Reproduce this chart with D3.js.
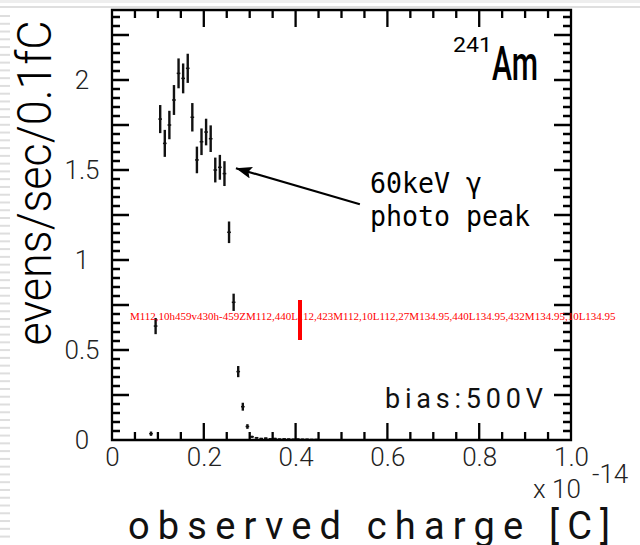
<!DOCTYPE html>
<html>
<head>
<meta charset="utf-8">
<script src="https://cdn.jsdelivr.net/npm/d3@7"></script>
<style>
  html, body { margin: 0; padding: 0; background: #fff; }
  svg { display: block; }
</style>
</head>
<body>
<svg id="chart"></svg>
<script>
// 241Am spectrum, bias 500V. charge in units of 1e-14 C
const chargeBins = [0.085, 0.095, 0.105, 0.115, 0.125, 0.135, 0.145, 0.155, 0.165, 0.175,
  0.185, 0.195, 0.205, 0.215, 0.225, 0.235, 0.245, 0.255, 0.265, 0.275,
  0.285, 0.295, 0.305, 0.315, 0.325, 0.335, 0.345, 0.355, 0.365, 0.375,
  0.385, 0.395, 0.405, 0.415, 0.425, 0.435, 0.445];
const rates = [0.035, 0.633, 1.783, 1.648, 1.75, 1.889, 2.037, 2.009, 2.065, 1.793,
  1.556, 1.657, 1.711, 1.674, 1.50, 1.515, 1.48, 1.154, 0.765, 0.38,
  0.185, 0.075, 0.018, 0.012, 0.008, 0.010, 0.006, 0.008, 0.005, 0.006,
  0.005, 0.004, 0.005, 0.004, 0.004, 0.003, 0.003];
const rateErrors = [0.012, 0.045, 0.078, 0.075, 0.079, 0.083, 0.083, 0.083, 0.081, 0.079,
  0.074, 0.074, 0.074, 0.074, 0.069, 0.069, 0.069, 0.06, 0.048, 0.031,
  0.022, 0.013, 0.006, 0.005, 0.004, 0.004, 0.004, 0.004, 0.003, 0.003,
  0.003, 0.003, 0.003, 0.003, 0.003, 0.003, 0.003];

const xLabelValues = [0, 0.2, 0.4, 0.6, 0.8, 1.0];
const xTickLabels = ["0", "0.2", "0.4", "0.6", "0.8", "1.0"];
const yLabelValues = [0, 0.5, 1, 1.5, 2];
const yTickLabels = ["0", "0.5", "1", "1.5", "2"];

const width = 640, height = 545;
const frame = { left: 112, right: 571, top: 10, bottom: 440 };
const yMax = 2.389;

const svg = d3.select("#chart")
  .attr("width", width)
  .attr("height", height);

// slide decoration (left notes strip + top border)
svg.append("rect").attr("x", 0).attr("y", 0).attr("width", width).attr("height", 3).attr("fill", "#eeeeee");
svg.append("line").attr("x1", 0).attr("x2", width).attr("y1", 7).attr("y2", 7)
  .attr("stroke", "#d4d4d4").attr("stroke-width", 1.5);
svg.append("g").selectAll("rect")
  .data(d3.range(15, 541, 7.77))
  .join("rect")
  .attr("x", 0).attr("y", d => d).attr("width", 10).attr("height", 2)
  .attr("fill", "#dedede");

const xScale = d3.scaleLinear().domain([0, 1.0]).range([frame.left, frame.right]);
const yScale = d3.scaleLinear().domain([0, yMax]).range([frame.bottom, frame.top]);

const xMinor = d3.range(0, 1.0001, 0.05);
const yMinor = d3.range(0, yMax, 0.05);

// tick labels
const xLab = svg.append("g")
  .attr("transform", `translate(0,${frame.bottom})`)
  .call(d3.axisBottom(xScale).tickValues(xLabelValues).tickSize(0).tickPadding(8)
    .tickFormat((d, i) => xTickLabels[i]));
xLab.select(".domain").remove();
xLab.selectAll("text")
  .attr("font-family", "Roboto").attr("font-weight", 300).attr("font-size", 26).attr("fill", "#222");

const yLab = svg.append("g")
  .attr("transform", `translate(${frame.left},0)`)
  .call(d3.axisLeft(yScale).tickValues(yLabelValues).tickSize(0).tickPadding(30)
    .tickFormat((d, i) => yTickLabels[i]));
yLab.select(".domain").remove();
yLab.selectAll("text")
  .attr("text-anchor", "middle")
  .attr("font-family", "Roboto").attr("font-weight", 300).attr("font-size", 26).attr("fill", "#222");

// data with error bars
const pts = chargeBins.map((c, i) => ({ c: c, v: rates[i], e: rateErrors[i] }));
const marks = svg.append("g")
  .selectAll("g").data(pts).join("g");
marks.append("line")
  .attr("x1", d => xScale(d.c)).attr("x2", d => xScale(d.c))
  .attr("y1", d => yScale(Math.max(0, d.v - d.e))).attr("y2", d => yScale(d.v + d.e))
  .attr("stroke", "#111").attr("stroke-width", 2.4);
marks.append("line")
  .attr("x1", d => xScale(d.c - 0.004)).attr("x2", d => xScale(d.c + 0.004))
  .attr("y1", d => yScale(d.v)).attr("y2", d => yScale(d.v))
  .attr("stroke", "#111").attr("stroke-width", 1.5);

// annotation arrow
svg.append("defs").append("marker")
  .attr("id", "head")
  .attr("markerUnits", "userSpaceOnUse")
  .attr("markerWidth", 18).attr("markerHeight", 12)
  .attr("refX", 16).attr("refY", 6)
  .attr("orient", "auto")
  .append("path").attr("d", "M0,0 L16,6 L0,12 L3,6 z").attr("fill", "#000");
svg.append("line")
  .attr("x1", xScale(0.54)).attr("y1", yScale(1.31))
  .attr("x2", xScale(0.27)).attr("y2", yScale(1.51))
  .attr("stroke", "#000").attr("stroke-width", 2.2)
  .attr("marker-end", "url(#head)");

const mono = "'DejaVu Sans Mono', monospace";
svg.append("text").attr("x", 370).attr("y", 193)
  .attr("font-family", mono).attr("font-size", 28)
  .attr("textLength", 112).attr("lengthAdjust", "spacingAndGlyphs")
  .text("60keV γ");
svg.append("text").attr("x", 370).attr("y", 226)
  .attr("font-family", mono).attr("font-size", 28)
  .attr("textLength", 160).attr("lengthAdjust", "spacingAndGlyphs")
  .text("photo peak");
svg.append("text").attr("x", 385).attr("y", 408)
  .attr("font-family", "Roboto").attr("font-size", 27).attr("fill", "#111")
  .attr("textLength", 158).attr("lengthAdjust", "spacing")
  .text("bias:500V");

// isotope label
svg.append("text").attr("x", 453).attr("y", 52)
  .attr("font-family", "Roboto").attr("font-size", 21)
  .attr("textLength", 39).attr("lengthAdjust", "spacingAndGlyphs")
  .text("241");
svg.append("text").attr("x", 492).attr("y", 80)
  .attr("font-family", "Roboto").attr("font-weight", 500).attr("font-size", 49)
  .attr("textLength", 46).attr("lengthAdjust", "spacingAndGlyphs")
  .text("Am");

// exponent
svg.append("text").attr("x", 533).attr("y", 498)
  .attr("font-family", "Roboto").attr("font-weight", 300).attr("font-size", 26).attr("fill", "#222")
  .text("x 10");
svg.append("text").attr("x", 592).attr("y", 483)
  .attr("font-family", "Roboto").attr("font-weight", 300).attr("font-size", 26).attr("fill", "#222")
  .text("-14");

// axis titles
svg.append("text")
  .attr("transform", "translate(51,183) rotate(-90)")
  .attr("text-anchor", "middle")
  .attr("font-family", "Roboto").attr("font-weight", 300).attr("font-size", 49).attr("fill", "#000")
  .attr("textLength", 325).attr("lengthAdjust", "spacingAndGlyphs")
  .text("evens/sec/0.1fC");
svg.append("text").attr("x", 128).attr("y", 539)
  .attr("font-family", "Roboto").attr("font-size", 38).attr("fill", "#111")
  .attr("textLength", 482).attr("lengthAdjust", "spacing")
  .text("observed charge [C]");

// frame and inward ticks, all in one path
function isStep(v, step) {
  return Math.abs(v / step - Math.round(v / step)) < 1e-6;
}
const fp = d3.path();
fp.rect(frame.left, frame.top, frame.right - frame.left, frame.bottom - frame.top);
xMinor.forEach(function(d) {
  const len = isStep(d, 0.2) ? 17 : 8;
  const x = xScale(d);
  fp.moveTo(x, frame.bottom); fp.lineTo(x, frame.bottom - len);
  fp.moveTo(x, frame.top); fp.lineTo(x, frame.top + len);
});
yMinor.forEach(function(d) {
  const len = isStep(d, 0.25) ? 17 : 8;
  const y = yScale(d);
  fp.moveTo(frame.left, y); fp.lineTo(frame.left + len, y);
  fp.moveTo(frame.right, y); fp.lineTo(frame.right - len, y);
});
const framePath = svg.append("path")
  .attr("d", fp.toString())
  .attr("fill", "none")
  .attr("stroke", "#000")
  .attr("stroke-width", 2.3);

// check overlay
svg.append("line").attr("x1", 300).attr("x2", 300).attr("y1", 300).attr("y2", 340)
  .attr("stroke", "red").attr("stroke-width", 4);
svg.append("text").attr("x", 130).attr("y", 470 - 150).attr("font-size", 11).attr("fill", "red")
  .text(fp.toString().slice(0, 90));
</script>
</body>
</html>
